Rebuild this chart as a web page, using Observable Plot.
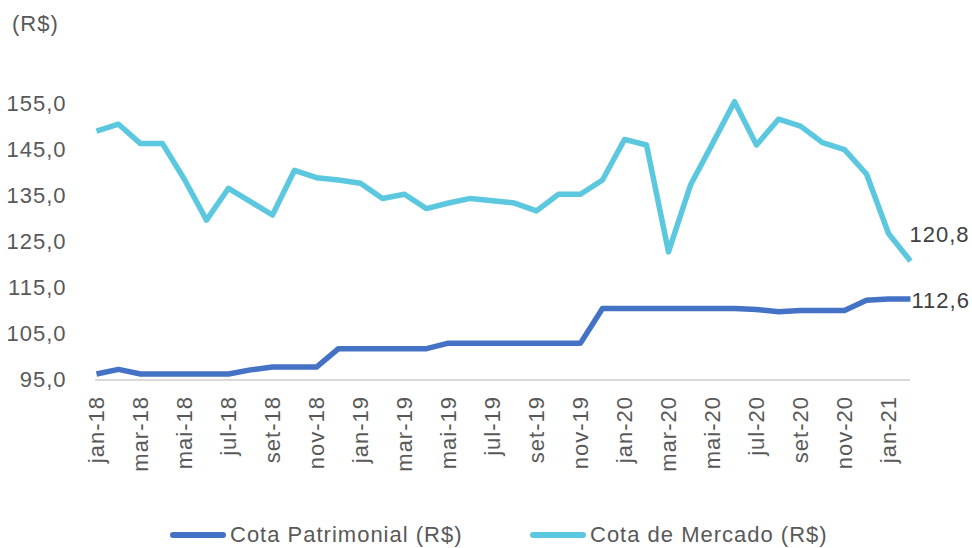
<!DOCTYPE html>
<html>
<head>
<meta charset="utf-8">
<script src="https://cdn.jsdelivr.net/npm/d3@7"></script>
<script src="https://cdn.jsdelivr.net/npm/@observablehq/plot@0.6"></script>
<style>
  body { margin: 0; background: #fff; font-family: "Liberation Sans", Arial, sans-serif; }
  #wrap { position: relative; width: 972px; height: 548px; overflow: hidden; }
  #unit { position: absolute; left: 12px; top: 11px; font-size: 22px; letter-spacing: 1px; color: #595959; }
  #chart { position: absolute; left: 0; top: 0; }
  #legend { position: absolute; left: 0; top: 522px; width: 972px; height: 26px; font-size: 22px; letter-spacing: 1px; color: #595959; }
  .item { position: absolute; top: 0; display: flex; align-items: center; height: 26px; }
  .sw { width: 56px; height: 6px; border-radius: 3px; margin-right: 4px; }
</style>
</head>
<body>
<div id="wrap">
  <div id="chart"></div>
  <div id="unit">(R$)</div>
  <div id="legend"></div>
</div>
<script>
const months = ["jan-18","fev-18","mar-18","abr-18","mai-18","jun-18","jul-18","ago-18","set-18","out-18","nov-18","dez-18",
                "jan-19","fev-19","mar-19","abr-19","mai-19","jun-19","jul-19","ago-19","set-19","out-19","nov-19","dez-19",
                "jan-20","fev-20","mar-20","abr-20","mai-20","jun-20","jul-20","ago-20","set-20","out-20","nov-20","dez-20",
                "jan-21","fev-21"];
const tickLabels = ["jan-18","mar-18","mai-18","jul-18","set-18","nov-18","jan-19","mar-19","mai-19","jul-19","set-19","nov-19",
                    "jan-20","mar-20","mai-20","jul-20","set-20","nov-20","jan-21"];
const cotaPatrimonial = [96.3,97.3,96.3,96.3,96.3,96.3,96.3,97.2,97.8,97.8,97.8,101.8,
                         101.8,101.8,101.8,101.8,103.0,103.0,103.0,103.0,103.0,103.0,103.0,110.5,
                         110.5,110.5,110.5,110.5,110.5,110.5,110.3,109.8,110.1,110.1,110.1,112.3,
                         112.6,112.6];
const cotaMercado = [149.0,150.5,146.3,146.3,138.5,129.7,136.6,133.7,130.8,140.5,138.9,138.4,
                     137.7,134.4,135.3,132.2,133.4,134.4,133.9,133.4,131.7,135.3,135.3,138.4,
                     147.2,146.0,122.8,137.3,146.3,155.4,146.0,151.6,150.1,146.5,145.0,139.7,
                     126.8,120.8];
const yTicks = [95,105,115,125,135,145,155];
const seriesNames = ["Cota Patrimonial (R$)", "Cota de Mercado (R$)"];
const seriesColors = ["#4472C4", "#5BC8E0"];

const fmt = v => v.toFixed(1).replace(".", ",");
const pat = months.map((m, i) => ({m, v: cotaPatrimonial[i]}));
const mer = months.map((m, i) => ({m, v: cotaMercado[i]}));
const lastPat = [pat[pat.length - 1]];
const lastMer = [mer[mer.length - 1]];

const chart = Plot.plot({
  width: 972,
  height: 500,
  marginLeft: 95,
  marginRight: 62,
  marginTop: 103,
  marginBottom: 120.5,
  style: {fontFamily: "'Liberation Sans', Arial, sans-serif", fontSize: "22px", letterSpacing: "1px", color: "#595959", background: "transparent"},
  x: {type: "point", domain: months, padding: 0},
  y: {domain: [95, 155]},
  marks: [
    Plot.axisY({ticks: yTicks, tickFormat: fmt, tickSize: 0, tickPadding: 29, fontSize: 22, label: null, fill: "#595959"}),
    Plot.axisX({ticks: tickLabels, tickRotate: -90, tickSize: 0, tickPadding: 16, fontSize: 22, label: null, fill: "#595959"}),
    Plot.ruleY([95], {stroke: "#d9d9d9", strokeWidth: 2}),
    Plot.line(pat, {x: "m", y: "v", stroke: seriesColors[0], strokeWidth: 5.5, strokeLinejoin: "round", strokeLinecap: "butt"}),
    Plot.line(mer, {x: "m", y: "v", stroke: seriesColors[1], strokeWidth: 5.5, strokeLinejoin: "round", strokeLinecap: "butt"}),
    Plot.text(lastMer, {x: "m", y: "v", text: d => fmt(d.v), textAnchor: "start", dx: -1, dy: -26, fontSize: 22, fill: "#404040"}),
    Plot.text(lastPat, {x: "m", y: "v", text: d => fmt(d.v), textAnchor: "start", dx: 1, dy: 2, fontSize: 22, fill: "#404040"})
  ]
});
document.getElementById("chart").appendChild(chart);

const legend = document.getElementById("legend");
const lefts = [170, 530];
seriesNames.forEach((name, i) => {
  const it = document.createElement("div");
  it.className = "item";
  it.style.left = lefts[i] + "px";
  const sw = document.createElement("div");
  sw.className = "sw";
  sw.style.background = seriesColors[i];
  const t = document.createElement("span");
  t.textContent = name;
  it.appendChild(sw);
  it.appendChild(t);
  legend.appendChild(it);
});
</script>
</body>
</html>
